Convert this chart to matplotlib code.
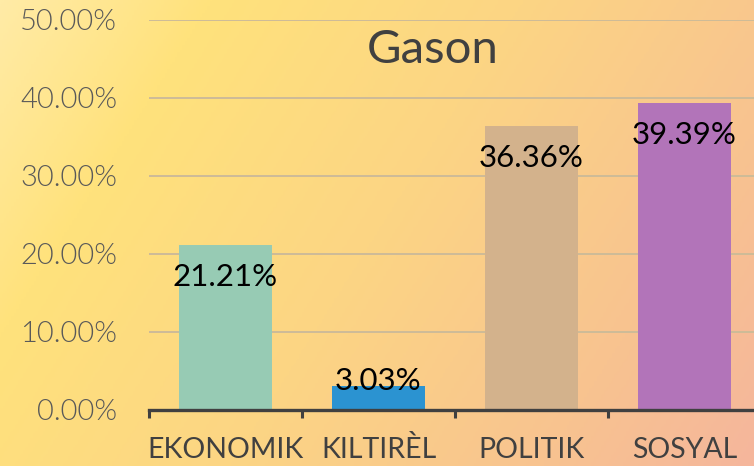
import numpy as np
import matplotlib.pyplot as plt
from matplotlib.colors import LinearSegmentedColormap
from matplotlib.ticker import FuncFormatter, FixedLocator

# data
categories = ["EKONOMIK", "KILTIRÈL", "POLITIK", "SOSYAL"]
values = [21.21, 3.03, 36.36, 39.39]
bar_colors = ["#97CBB4", "#2B93D1", "#D3B28C", "#B274B9"]
y_ticks = [0, 10, 20, 30, 40, 50]
title = "Gason"

plt.rcParams['font.family'] = ['Lato', 'DejaVu Sans']
light = 300  # Lato Light

W, H = 754, 466
fig = plt.figure(figsize=(W / 100, H / 100), dpi=100)

# gradient background
bg = fig.add_axes([0, 0, 1, 1], zorder=-10)
bg.axis('off')
xx, yy = np.meshgrid(np.linspace(0, 1, 300), np.linspace(0, 1, 200))
t = np.clip(0.72 * xx + 0.28 * yy, 0, 1)
grad_cmap = LinearSegmentedColormap.from_list(
    "bg", [(0.0, "#FFEBA6"), (0.2, "#FFE27C"), (0.5, "#FCD584"), (0.8, "#F8C390"), (1.0, "#F5B69C")])
bg.imshow(t, cmap=grad_cmap, aspect='auto', extent=[0, 1, 0, 1], origin='upper')
bg.set_xlim(0, 1)
bg.set_ylim(0, 1)

# plot area (right edge runs past the figure edge)
left = 149 / W
width = 612 / W
bottom = (H - 410) / H
height = 390 / H
ax = fig.add_axes([left, bottom, width, height])
ax.patch.set_alpha(0)

x = np.arange(len(categories))
ax.bar(x, values, width=0.61, color=bar_colors, zorder=3)

ax.set_xlim(-0.5, len(categories) - 0.5)
ax.set_ylim(0, 50)

ax.set_yticks(y_ticks)
ax.yaxis.set_major_formatter(FuncFormatter(lambda v, p: f"{v:.2f}%"))
ax.tick_params(axis='y', length=0, pad=23, labelsize=21, labelcolor='#595959')
for lab in ax.get_yticklabels():
    lab.set_fontweight(light)
ax.grid(axis='y', color='#CDBB98', linewidth=1.4, zorder=0)

ax.set_xticks(x)
ax.set_xticklabels(categories, va='baseline')
ax.xaxis.set_minor_locator(FixedLocator(np.arange(len(categories) + 1) - 0.5))
ax.tick_params(axis='x', which='major', length=0, pad=34.5, labelsize=20.5, labelcolor='#404040')
ax.tick_params(axis='x', which='minor', length=6, width=2.2, color='#404040', direction='out')

for s in ['left', 'right', 'top']:
    ax.spines[s].set_visible(False)
ax.spines['bottom'].set_color('#404040')
ax.spines['bottom'].set_linewidth(2.4)
ax.spines['bottom'].set_zorder(5)

# data labels
for xi, v in zip(x, values):
    off = -23 if v > 10 else 4
    ax.annotate(f"{v:.2f}%", (xi, v), xytext=(0, off), textcoords='offset points',
                ha='center', va='center', fontsize=22.5, color='black', zorder=6)

fig.text(433 / W, 1 - 50 / H, title, ha='center', va='center', fontsize=34,
         color='#404040')

fig.savefig("out.png", dpi=100)
